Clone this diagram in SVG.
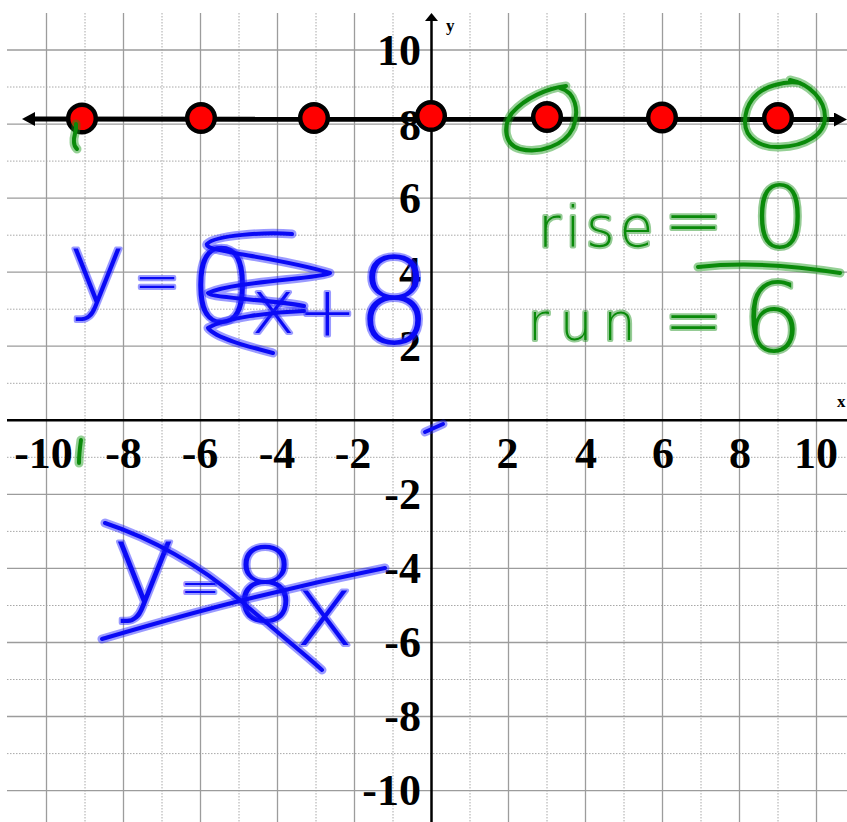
<svg xmlns="http://www.w3.org/2000/svg" width="847" height="822" viewBox="0 0 847 822">
<style>
.gs{stroke:#9c9c9c;stroke-width:1.3;fill:none}
.gd{stroke:#a8a8a8;stroke-width:1;stroke-dasharray:1.5 1.5;fill:none}
.ax{stroke:#000;stroke-width:2.5;fill:none}
.tk{font-family:"Liberation Serif","Times New Roman",serif;font-weight:bold;font-size:44px;fill:#000}
.al{font-family:"Liberation Serif","Times New Roman",serif;font-weight:bold;font-size:17px;fill:#000}
.pt{fill:#ff0000;stroke:#000;stroke-width:4.5}
.hw{font-family:"DejaVu Sans","Open Sans",sans-serif;font-weight:200;stroke-linejoin:round;paint-order:stroke}
.hwb{fill:#0a0af5;stroke:rgba(30,30,255,0.45);stroke-width:4}
.hwg{fill:#0a8a0a;stroke:rgba(20,140,20,0.45);stroke-width:4}
.inkHalo{fill:none;stroke-width:9;stroke-linecap:round;stroke-linejoin:round}
.inkCore{fill:none;stroke-width:4;stroke-linecap:round;stroke-linejoin:round}
</style>
<defs>
<marker id="arrowBig" markerUnits="userSpaceOnUse" markerWidth="13" markerHeight="14" refX="0" refY="7" orient="auto-start-reverse" viewBox="0 0 13 14"><path d="M0 0 L13 7 L0 14 Z" fill="#000"/></marker>
<marker id="arrowSmall" markerUnits="userSpaceOnUse" markerWidth="8" markerHeight="13" refX="0" refY="6.5" orient="auto" viewBox="0 0 8 13"><path d="M0 0 L8 6.5 L0 13 Z" fill="#000"/></marker>
<g id="blueStrokes">
<path d="M292 234 C265 232 215 235 207 244 C203 252 275 256 330 273 C320 279 235 281 208 293 C210 298 275 300 304 306"/>
<path d="M304 311 C270 312 225 318 208 328 C215 338 250 347 273 353"/>
<path d="M105 523 C150 538 200 565 240 600 S300 650 322 670"/>
<path d="M102 639 C150 625 250 595 385 568"/>
<path d="M425 432 L443 424"/>
</g>
<g id="greenStrokes">
<path d="M566 86 C548 88 525 98 512 113 C502 127 505 145 520 149 C540 154 565 145 573 128 C580 110 575 92 560 88"/>
<path d="M790 80 C810 84 825 100 825 117 C825 135 805 146 780 147 C760 148 745 138 745 122 C745 105 755 90 775 85 C785 82 795 82 800 83"/>
<path d="M698 267 Q760 260 840 273"/>
<path d="M76 124 C77 132 73 136 74 142 C74 146 76 148 77 149"/>
<path d="M81 440 C80 447 79 455 79 463"/>
</g>
</defs>
<rect width="847" height="822" fill="#fff"/>
<g id="grid">
<path class="gd" d="M85 13V822M162 13V822M239 13V822M316 13V822M393 13V822M470 13V822M547 13V822M624 13V822M701 13V822M778 13V822M7 87H847M7 161.1H847M7 235.2H847M7 309.2H847M7 383.3H847M7 457.3H847M7 531.4H847M7 605.5H847M7 679.5H847M7 753.6H847"/>
<path class="gs" d="M46.5 13V822M123.5 13V822M200.5 13V822M277.5 13V822M354.5 13V822M508.5 13V822M585.5 13V822M662.5 13V822M739.5 13V822M816.5 13V822M7 50H847M7 124.1H847M7 198.1H847M7 272.2H847M7 346.2H847M7 494.4H847M7 568.4H847M7 642.5H847M7 716.5H847M7 790.6H847"/>
</g>
<g id="tick-labels" class="tk">
<text x="43.5" y="468" text-anchor="middle">-10</text>
<text x="123.5" y="468" text-anchor="middle">-8</text>
<text x="200" y="468" text-anchor="middle">-6</text>
<text x="277" y="468" text-anchor="middle">-4</text>
<text x="353" y="468" text-anchor="middle">-2</text>
<text x="507.5" y="468" text-anchor="middle">2</text>
<text x="586" y="468" text-anchor="middle">4</text>
<text x="663" y="468" text-anchor="middle">6</text>
<text x="740" y="468" text-anchor="middle">8</text>
<text x="816" y="468" text-anchor="middle">10</text>
<text x="421" y="65" text-anchor="end">10</text>
<text x="421" y="140" text-anchor="end">8</text>
<text x="421" y="213" text-anchor="end">6</text>
<text x="421" y="287" text-anchor="end">4</text>
<text x="421" y="361" text-anchor="end">2</text>
<text x="421" y="509" text-anchor="end">-2</text>
<text x="421" y="583" text-anchor="end">-4</text>
<text x="421" y="657" text-anchor="end">-6</text>
<text x="421" y="731" text-anchor="end">-8</text>
<text x="421" y="805" text-anchor="end">-10</text>
</g>
<g id="axes">
<line class="ax" x1="7" y1="420.3" x2="847" y2="420.3"/>
<line class="ax" x1="431.5" y1="822" x2="431.5" y2="21" marker-end="url(#arrowSmall)"/>
<text class="al" x="446" y="31">y</text>
<text class="al" x="837" y="407">x</text>
</g>
<g id="connectors">
<path d="M35 119 L834 119.5" stroke="#000" stroke-width="5" fill="none" marker-start="url(#arrowBig)" marker-end="url(#arrowBig)"/>
</g>
<g id="points">
<g id="p-9"><circle class="pt" cx="82" cy="118.5" r="13.8"/></g>
<g id="p-6"><circle class="pt" cx="201" cy="118" r="13.8"/></g>
<g id="p-3"><circle class="pt" cx="314" cy="118" r="13.8"/></g>
<g id="p0"><circle class="pt" cx="431" cy="116" r="13.8"/></g>
<g id="p3"><circle class="pt" cx="547" cy="117" r="13.8"/></g>
<g id="p6"><circle class="pt" cx="662" cy="117.5" r="13.8"/></g>
<g id="p9"><circle class="pt" cx="778" cy="118" r="13.8"/></g>
</g>
<g id="green-notes">
<use href="#greenStrokes" class="inkHalo" stroke="rgba(20,150,20,0.45)"/>
<use href="#greenStrokes" class="inkCore" stroke="#0a8a0a"/>
<text class="hw hwg"><tspan x="538" y="246" font-size="55" letter-spacing="5">rise</tspan> <tspan x="664" y="244" font-size="70">=</tspan> <tspan x="752" y="248" font-size="88">0</tspan></text>
<text class="hw hwg"><tspan x="528" y="340" font-size="51" letter-spacing="11">run</tspan> <tspan x="664" y="344" font-size="70">=</tspan> <tspan x="742" y="352" font-size="96">6</tspan></text>
</g>
<g id="blue-notes">
<text class="hw hwb"><tspan x="68" y="302" font-size="98">y</tspan> <tspan x="134" y="300" font-size="55">=</tspan> <tspan x="189" y="322" font-size="103">0</tspan><tspan x="251" y="333" font-size="75">x</tspan> <tspan x="298" y="335" font-size="70">+</tspan> <tspan x="356" y="343" font-size="120">8</tspan></text>
<text class="hw hwb"><tspan x="112" y="602" font-size="110">y</tspan> <tspan x="180" y="603" font-size="48">=</tspan> <tspan x="232" y="622" font-size="104">8</tspan><tspan x="295" y="645" font-size="100">x</tspan></text>
<use href="#blueStrokes" class="inkHalo" stroke="rgba(30,30,255,0.45)"/>
<use href="#blueStrokes" class="inkCore" stroke="#0a0af5"/>
</g>
</svg>
